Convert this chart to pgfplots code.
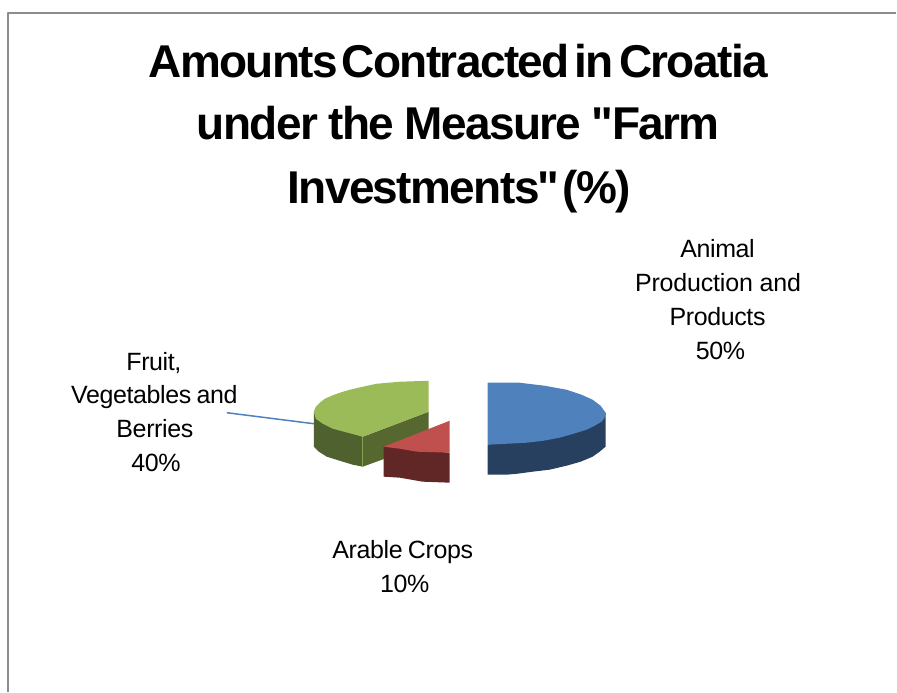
\documentclass[border=0pt]{standalone}
\usepackage{fontspec}
\setmainfont{Liberation Sans}
\newfontfamily\titlefont[LetterSpace=-3.5]{Liberation Sans Bold}
\newfontfamily\labelfont[LetterSpace=-1.5,WordSpace=0.8]{Liberation Sans}
\newfontfamily\labelfontb[LetterSpace=-0.7,WordSpace=1.0]{Liberation Sans}
\usepackage{pgfplots}
\pgfplotsset{compat=1.18}
\definecolor{blueTop}{HTML}{4F81BD}
\definecolor{blueSide}{HTML}{27405F}
\definecolor{greenTop}{HTML}{9BBB59}
\definecolor{greenSide}{HTML}{4F612E}
\definecolor{greenFace}{HTML}{56682F}
\definecolor{redTop}{HTML}{C0504D}
\definecolor{redSide}{HTML}{612727}
\definecolor{frameGray}{HTML}{8C8C8C}

\begin{document}
\begin{tikzpicture}
\begin{axis}[
    scale only axis, width=897pt, height=692pt,
    xmin=0, xmax=897, ymin=0, ymax=692, y dir=reverse,
    hide axis, clip=false,
    every axis plot/.append style={line join=round}
  ]
  % outer frame
  \addplot[frameGray, line width=1.2pt] coordinates {(8,692) (8,13) (897,13)};

  % Animal Production and Products, 50%
  \addplot[fill=blueSide, draw=none] coordinates {
    (488,445) (606,413) (606,447) (600,452) (593,457) (581,462) (567,466) (550,470) (533,472) (518,474) (507,475) (488,475)} -- cycle;
  \addplot[fill=blueTop, draw=none] coordinates {
    (488,383) (505,383) (520,383) (545,386) (567,390) (582,395) (593,400) (601,406) (606,413) (605,418) (602,422) (595,426) (587,430) (574,434) (560,438) (544,441) (527,443) (508,444) (488,445)} -- cycle;

  % Fruit, Vegetables and Berries, 40%
  \addplot[fill=greenSide, draw=none] coordinates {
    (314,412) (363,437) (363,467) (353,465) (343,462) (327,457) (319,452) (314,447)} -- cycle;
  \addplot[fill=greenFace, draw=none] coordinates {
    (363,437) (429,412) (429,445) (385,459) (363,467)} -- cycle;
  \addplot[color=greenTop!70!greenSide, line width=0.6pt] coordinates {(363,437) (363,467)};
  \addplot[fill=greenTop, draw=none] coordinates {
    (429,381) (400,382) (377,384) (363,387) (350,390) (340,393) (332,396) (325,399) (320,403) (316,407) (314,412) (316,419) (323,424) (333,429) (348,433) (363,437) (429,412)} -- cycle;

  % Arable Crops, 10%
  \addplot[fill=redSide, draw=none] coordinates {
    (384,447) (450,453) (450,483) (423,482) (400,478) (384,477)} -- cycle;
  \addplot[fill=redTop, draw=none] coordinates {
    (384,447) (450,421) (450,453) (417,452) (400,449)} -- cycle;

  % leader line
  \addplot[color=blueTop, line width=1.5pt] coordinates {(227,413) (314,424)};

  % title, word gaps set by hand since they differ line by line
  \tikzset{ttl/.style={font=\titlefont\fontsize{46}{46}\selectfont, anchor=base}}
  \node[ttl] at (axis cs:458.5,78) {Amounts\hspace{3.5pt}Contracted\hspace{5pt}in\hspace{5pt}Croatia};
  \node[ttl] at (axis cs:458.5,140) {under\hspace{10.5pt}the\hspace{10.5pt}Measure\hspace{10.5pt}"Farm};
  \node[ttl] at (axis cs:459.5,204) {Investments"\hspace{3pt}(\%)};

  % labels
  \tikzset{lab/.style={font=\labelfont\fontsize{25}{25}\selectfont, anchor=base, inner sep=0pt}}
  \node[lab] at (axis cs:718,258) {Animal};
  \node[lab, font=\labelfontb\fontsize{25}{25}\selectfont] at (axis cs:718.5,292) {Production and};
  \node[lab] at (axis cs:718,326) {Products};
  \node[lab] at (axis cs:721,360) {50\%};
  \node[lab] at (axis cs:154,371) {Fruit,};
  \node[lab] at (axis cs:154.5,404) {Vegetables and};
  \node[lab] at (axis cs:155,438) {Berries};
  \node[lab] at (axis cs:156,472) {40\%};
  \node[lab] at (axis cs:403,559) {Arable Crops};
  \node[lab] at (axis cs:405,593) {10\%};

  \path (axis cs:0,0) (axis cs:897,692);
\end{axis}
\end{tikzpicture}
\end{document}
